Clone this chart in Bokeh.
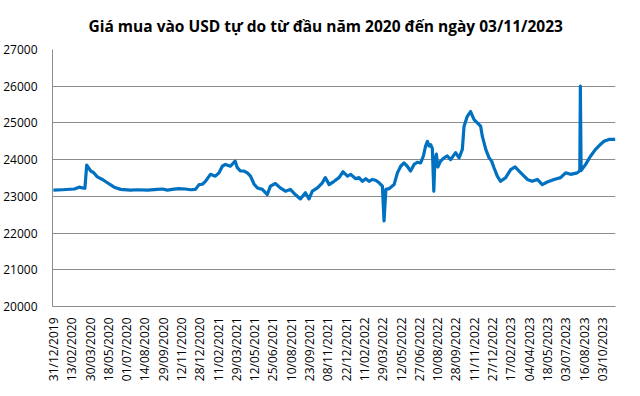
import math
from bokeh.plotting import figure
from bokeh.models import Range1d, FixedTicker, Title
from bokeh.embed import file_html
from bokeh.resources import INLINE

# ---- data ----
title_text = "Giá mua vào USD tự do từ đầu năm 2020 đến ngày 03/11/2023"

tick_labels = [
    "31/12/2019", "13/02/2020", "30/03/2020", "18/05/2020", "01/07/2020",
    "14/08/2020", "29/09/2020", "12/11/2020", "28/12/2020", "11/02/2021",
    "29/03/2021", "12/05/2021", "25/06/2021", "10/08/2021", "23/09/2021",
    "08/11/2021", "22/12/2021", "11/02/2022", "29/03/2022", "12/05/2022",
    "27/06/2022", "10/08/2022", "28/09/2022", "11/11/2022", "27/12/2022",
    "17/02/2023", "04/04/2023", "18/05/2023", "03/07/2023", "16/08/2023",
    "03/10/2023",
]

# position along the category axis, in label-interval units
pos = [
    0.00, 0.49, 1.15, 1.40, 1.58, 1.72, 1.82, 2.04, 2.19, 2.40,
    2.68, 2.95, 3.32, 3.68, 4.21, 4.59, 5.14, 5.68, 5.96, 6.23,
    6.50, 6.83, 7.21, 7.49, 7.76, 7.96, 8.14, 8.31, 8.58, 8.85,
    9.05, 9.23, 9.40, 9.67, 9.93, 10.05, 10.22, 10.42, 10.60, 10.77,
    10.97, 11.15, 11.42, 11.69, 11.86, 12.13, 12.40, 12.68, 12.95, 13.22,
    13.50, 13.77, 13.97, 14.15, 14.43, 14.70, 14.86, 15.07, 15.34, 15.61,
    15.83, 16.07, 16.25, 16.52, 16.70, 16.89, 17.07, 17.25, 17.43, 17.61,
    17.80, 17.98, 18.07, 18.17, 18.34, 18.62, 18.80, 18.98, 19.16, 19.34,
    19.52, 19.71, 19.89, 20.07, 20.22, 20.34, 20.44, 20.53, 20.62, 20.71,
    20.79, 20.85, 20.93, 21.01, 21.16, 21.35, 21.53, 21.71, 21.98, 22.17,
    22.35, 22.44, 22.62, 22.80, 22.99, 23.17, 23.35, 23.44, 23.63, 23.81,
    23.95, 24.08, 24.26, 24.44, 24.72, 24.99, 25.23, 25.45, 25.63, 25.90,
    26.17, 26.45, 26.72, 26.99, 27.36, 27.72, 27.99, 28.27, 28.63, 28.77,
    28.80, 28.84, 29.09, 29.36, 29.63, 29.91, 30.09, 30.36, 30.71,
]

usd_buy = [
    23170, 23180, 23200, 23250, 23230, 23220, 23850, 23690, 23650, 23530,
    23460, 23370, 23250, 23190, 23170, 23180, 23170, 23190, 23200, 23170,
    23190, 23210, 23200, 23180, 23190, 23320, 23330, 23410, 23600, 23550,
    23640, 23820, 23870, 23820, 23960, 23780, 23690, 23690, 23640, 23550,
    23330, 23230, 23190, 23050, 23280, 23350, 23230, 23140, 23190, 23050,
    22930, 23100, 22930, 23140, 23230, 23370, 23510, 23320, 23410, 23510,
    23670, 23550, 23600, 23480, 23510, 23410, 23480, 23410, 23460, 23440,
    23370, 23280, 22330, 23190, 23210, 23320, 23640, 23820, 23910, 23820,
    23690, 23870, 23930, 23910, 24100, 24370, 24500, 24370, 24410, 24300,
    23140, 24000, 24150, 23800, 23960, 24050, 24100, 24000, 24190, 24050,
    24280, 24900, 25180, 25310, 25090, 25000, 24910, 24640, 24280, 24050,
    23960, 23780, 23550, 23410, 23510, 23730, 23800, 23690, 23600, 23460,
    23410, 23460, 23320, 23390, 23460, 23510, 23640, 23600, 23640, 23700,
    26000, 23700, 23870, 24100, 24280, 24420, 24500, 24550, 24550,
]

y_ticks = [20000, 21000, 22000, 23000, 24000, 25000, 26000, 27000]

# ---- figure ----
GRID = "#8c8c8c"
FONT = "Open Sans"

p = figure(
    output_backend="svg", toolbar_location=None,
    x_range=Range1d(-0.05, 30.72), y_range=Range1d(20000, 27000),
    min_border_left=52, min_border_right=9, min_border_top=42, min_border_bottom=76,
)
p.frame_width = 563
p.frame_height = 257
p.outline_line_color = None
p.background_fill_color = "white"
p.border_fill_color = "white"

t = Title(text=title_text, align="left", offset=36, standoff=25,
          text_font=FONT, text_font_size="15.5px", text_font_style="bold",
          text_color="#000000")
p.add_layout(t, "above")

p.line(pos, usd_buy, line_color="#0070C0", line_width=3.2, line_join="round")

# y axis
p.yaxis.ticker = FixedTicker(ticks=y_ticks)
p.yaxis.major_tick_line_color = None
p.yaxis.major_tick_out = 0
p.yaxis.major_tick_in = 0
p.yaxis.minor_tick_line_color = None
p.yaxis.minor_tick_out = 0
p.yaxis.axis_line_color = GRID
p.yaxis.axis_line_width = 1
p.yaxis.major_label_standoff = 15
p.yaxis.major_label_text_font = FONT
p.yaxis.major_label_text_font_size = "12px"
p.yaxis.major_label_text_color = "#000000"

# x axis
p.xaxis.ticker = FixedTicker(ticks=list(range(len(tick_labels))))
p.xaxis.major_label_overrides = {i: s for i, s in enumerate(tick_labels)}
p.xaxis.major_label_orientation = math.pi / 2
p.xaxis.major_tick_line_color = None
p.xaxis.major_tick_out = 0
p.xaxis.major_tick_in = 0
p.xaxis.minor_tick_line_color = None
p.xaxis.minor_tick_out = 0
p.xaxis.axis_line_color = GRID
p.xaxis.axis_line_width = 1
p.xaxis.major_label_standoff = 11
p.xaxis.major_label_text_font = FONT
p.xaxis.major_label_text_font_size = "12px"
p.xaxis.major_label_text_color = "#000000"

p.xgrid.grid_line_color = None
p.ygrid.grid_line_color = GRID
p.ygrid.grid_line_width = 1

open("out.html", "w").write(file_html(p, INLINE))
